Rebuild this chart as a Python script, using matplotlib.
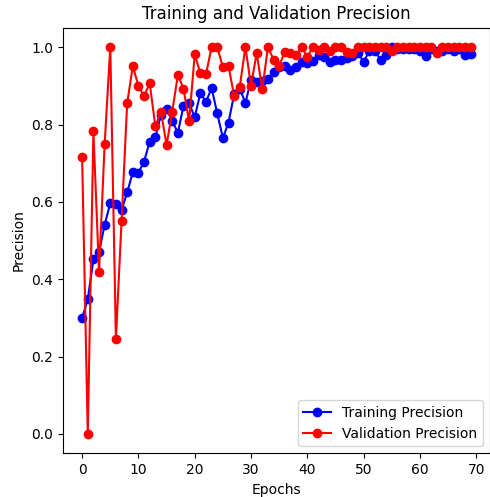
import numpy as np
import matplotlib
matplotlib.use('Agg')
import matplotlib.pyplot as plt

# Precision par epoch
train_precision = [0.30, 0.348, 0.451, 0.47, 0.541, 0.597, 0.595, 0.578, 0.625, 0.676,
                   0.675, 0.704, 0.756, 0.767, 0.825, 0.839, 0.81, 0.778, 0.848, 0.855,
                   0.819, 0.881, 0.859, 0.894, 0.829, 0.765, 0.805, 0.878, 0.893, 0.856,
                   0.915, 0.91, 0.912, 0.917, 0.936, 0.948, 0.952, 0.942, 0.95, 0.962,
                   0.96, 0.965, 0.98, 0.975, 0.962, 0.966, 0.968, 0.972, 0.978, 0.985,
                   0.962, 0.99, 0.99, 0.968, 0.98, 1.0, 0.995, 0.995, 0.995, 0.995,
                   0.99, 0.977, 0.995, 0.99, 0.99, 0.995, 0.99, 0.995, 0.979, 0.982]
val_precision = [0.715, 0.0, 0.782, 0.418, 0.75, 1.0, 0.245, 0.55, 0.855, 0.951,
                 0.90, 0.873, 0.907, 0.796, 0.833, 0.747, 0.833, 0.928, 0.893, 0.808,
                 0.982, 0.932, 0.930, 1.0, 1.0, 0.948, 0.951, 0.874, 0.898, 1.0,
                 0.90, 0.985, 0.891, 1.0, 0.968, 0.952, 0.988, 0.985, 0.979, 1.0,
                 0.975, 1.0, 0.992, 1.0, 0.99, 1.0, 1.0, 0.988, 0.985, 1.0,
                 1.0, 1.0, 1.0, 1.0, 1.0, 0.99, 1.0, 1.0, 1.0, 1.0,
                 1.0, 1.0, 1.0, 0.985, 1.0, 1.0, 1.0, 1.0, 1.0, 1.0]
epochs = np.arange(len(train_precision))

fig = plt.figure(figsize=(4.9, 4.97), dpi=100)
plt.subplots_adjust(left=0.128, right=1.0, top=0.944, bottom=0.088)
plt.plot(epochs, train_precision, 'bo-', label='Training Precision')
plt.plot(epochs, val_precision, 'ro-', label='Validation Precision')
plt.title('Training and Validation Precision')
plt.xlabel('Epochs')
plt.ylabel('Precision')
plt.legend(loc='lower right')
plt.savefig('out.png')
